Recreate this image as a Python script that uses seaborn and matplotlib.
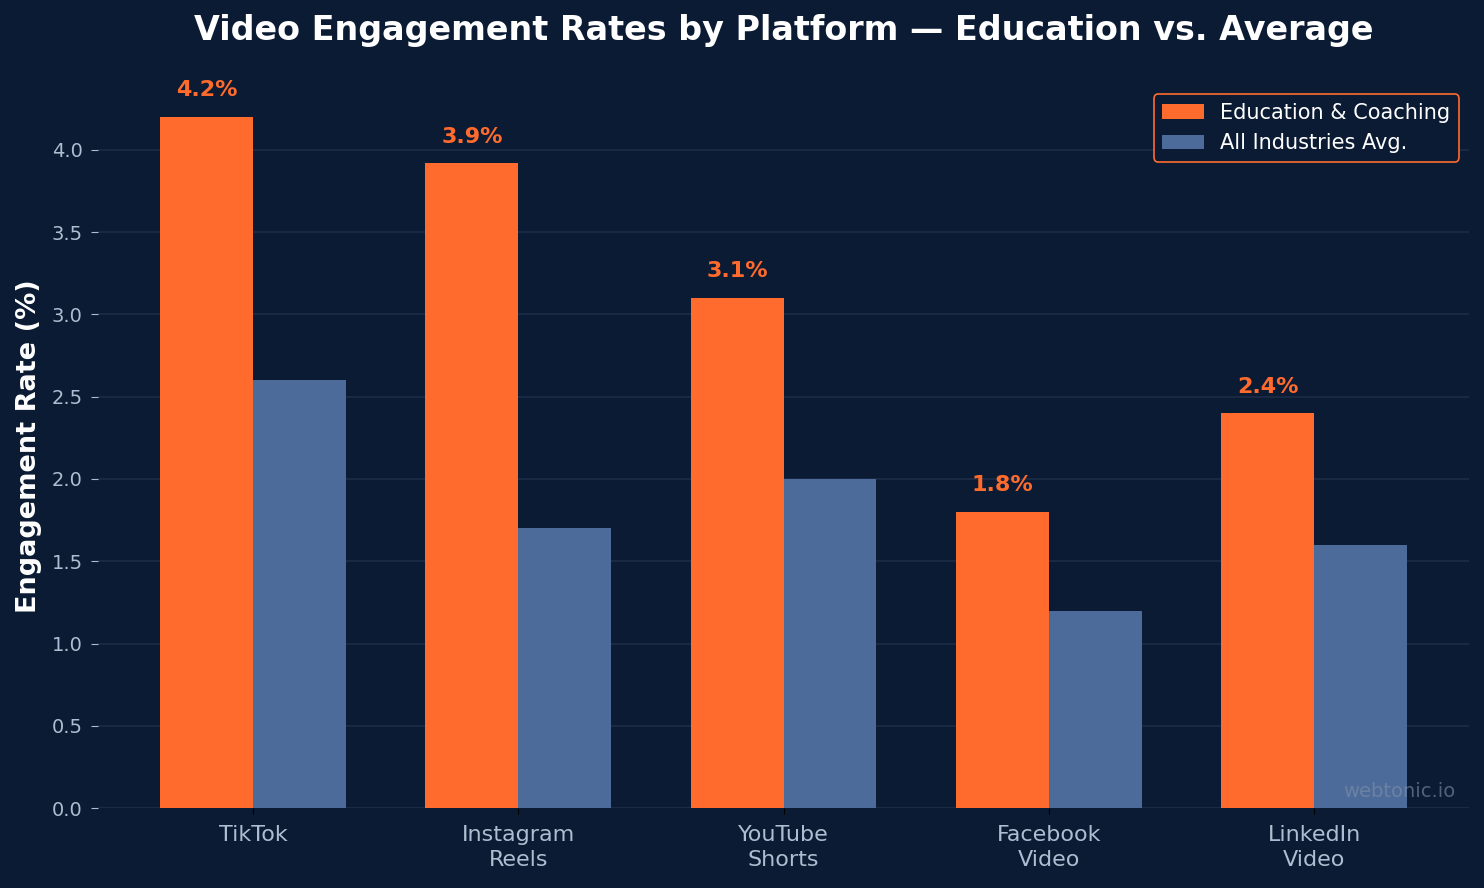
import pandas as pd
import seaborn as sns
import matplotlib.pyplot as plt

platforms = ['TikTok', 'Instagram\nReels', 'YouTube\nShorts', 'Facebook\nVideo', 'LinkedIn\nVideo']
education = [4.2, 3.92, 3.1, 1.8, 2.4]
all_avg = [2.6, 1.7, 2.0, 1.2, 1.6]
series_names = ['Education & Coaching', 'All Industries Avg.']

bg = '#0B1B34'
orange = '#FF6B2C'
blue = '#4C6B9A'
grid_c = '#1C2C47'
tick_c = '#AFBDD0'

df = pd.DataFrame({
    'Platform': platforms * 2,
    'Rate': education + all_avg,
    'Series': [series_names[0]] * len(platforms) + [series_names[1]] * len(platforms),
})

sns.set_style('dark')
plt.rcParams['font.family'] = ['DejaVu Sans']

fig, ax = plt.subplots(figsize=(14.84, 8.88), dpi=100)
fig.patch.set_facecolor(bg)
ax.set_facecolor(bg)

sns.barplot(data=df, x='Platform', y='Rate', hue='Series', width=0.7,
            palette=[orange, blue], saturation=1, ax=ax, zorder=3,
            linewidth=0, edgecolor='none')

# labels over the education bars
for i, v in enumerate(education):
    ax.text(i - 0.175, v + 0.1, f'{v:.1f}%', ha='center', va='bottom',
            color=orange, fontsize=16, fontweight='bold', zorder=4, clip_on=False)

ax.set_xlim(-0.585, 4.585)
ax.set_ylim(0, 4.4)
ax.set_yticks([0, 0.5, 1, 1.5, 2, 2.5, 3, 3.5, 4])
ax.yaxis.grid(True, color=grid_c, linewidth=1.2, zorder=0)
ax.xaxis.grid(False)
for s in ax.spines.values():
    s.set_visible(False)
ax.axhline(0, color=grid_c, linewidth=1.2, zorder=1)

ax.tick_params(axis='y', colors=tick_c, labelsize=14, length=5, pad=6, left=True, color=tick_c)
ax.tick_params(axis='x', labelcolor=tick_c, labelsize=16, length=4, bottom=True,
               color='black', pad=8)
for lab in ax.get_xticklabels():
    lab.set_linespacing(1.35)
ax.set_xlabel('')
ax.set_ylabel('Engagement Rate (%)', color='white', fontsize=19.5, fontweight='bold')
ax.yaxis.set_label_coords(-0.041, 0.5)
ax.set_title('Video Engagement Rates by Platform — Education vs. Average',
             color='white', fontsize=24, fontweight='bold', pad=32)

leg = ax.legend(loc='upper right', fontsize=15, facecolor=bg, edgecolor=orange,
                framealpha=1, labelcolor='white')
leg.get_frame().set_linewidth(1.2)

ax.text(0.99, 0.01, 'webtonic.io', transform=ax.transAxes, ha='right', va='bottom',
        color='#8090A8', alpha=0.6, fontsize=14, zorder=5)

plt.subplots_adjust(left=0.066, right=0.99, top=0.9054, bottom=0.09)
plt.savefig('out.png', dpi=100, facecolor=bg)
